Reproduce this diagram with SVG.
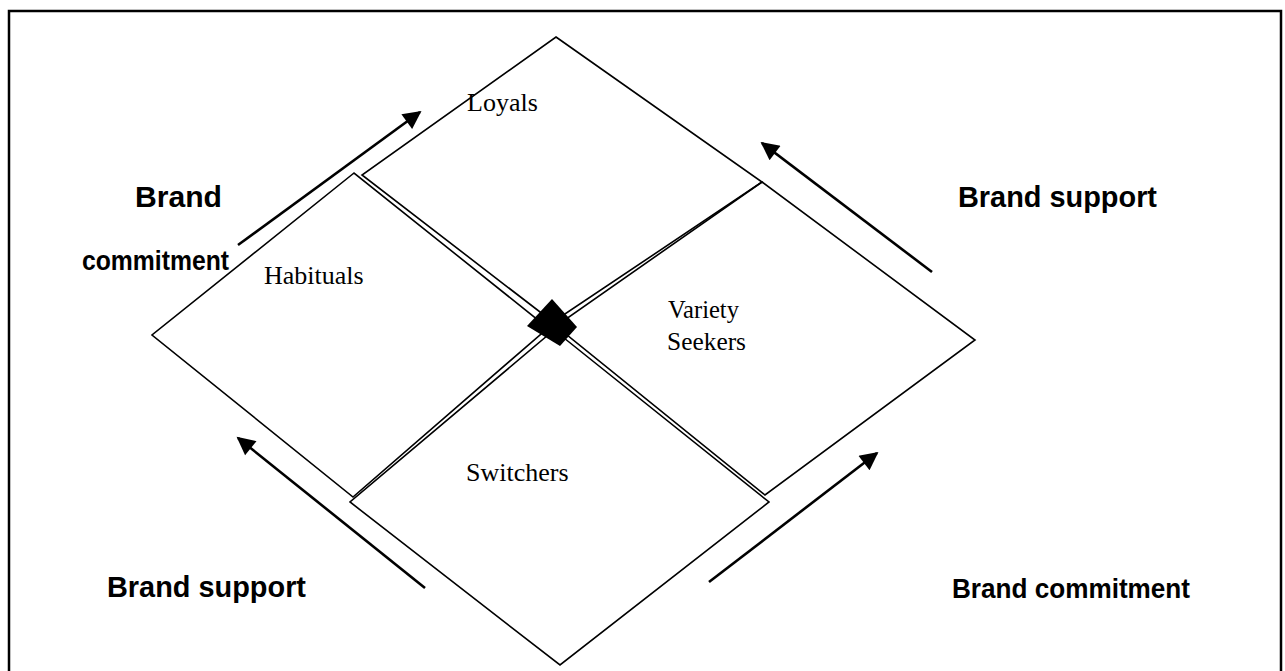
<svg xmlns="http://www.w3.org/2000/svg" width="1285" height="671" viewBox="0 0 1285 671">
  <defs>
    <marker id="head" viewBox="0 0 10 10" refX="9" refY="5" markerWidth="8" markerHeight="7" markerUnits="strokeWidth" orient="auto">
      <path d="M0,0 L10,5 L0,10 Z" fill="#000"/>
    </marker>
    <style>
      .seg { fill: none; stroke: #000; stroke-width: 1.6; stroke-linejoin: miter; }
      .arrow { fill: none; stroke: #000; stroke-width: 2.6; marker-end: url(#head); }
      .lbl { font-family: "Liberation Serif", "Times New Roman", serif; font-size: 26px; fill: #000; }
      .dir { font-family: "Liberation Sans", Arial, sans-serif; font-size: 29px; font-weight: bold; fill: #000; }
      .dir.sm { font-size: 27.5px; }
    </style>
  </defs>
  <rect width="1285" height="671" fill="#fff"/>
  <!-- page frame -->
  <rect x="9" y="11" width="1272" height="680" fill="none" stroke="#000" stroke-width="2.5"/>

  <g id="loyals">
    <polygon class="seg" points="556,37 762,182 553,322 362,175"/>
    <text class="lbl" x="467" y="111">Loyals</text>
  </g>
  <g id="habituals">
    <polygon class="seg" points="354,173 152,335 353,497 548,328"/>
    <text class="lbl" x="264" y="284">Habituals</text>
  </g>
  <g id="switchers">
    <polygon class="seg" points="554,330 769,502 560,665 350,502"/>
    <text class="lbl" x="466" y="481">Switchers</text>
  </g>
  <g id="variety-seekers">
    <polygon class="seg" points="762,182 975,340 765,495 556,326"/>
    <text class="lbl" x="668" y="318" textLength="71" lengthAdjust="spacingAndGlyphs">Variety</text>
    <text class="lbl" x="667" y="350" textLength="79" lengthAdjust="spacingAndGlyphs">Seekers</text>
  </g>
  <g id="hub">
    <polygon points="552,299 577,327 560,346 527,326" fill="#000"/>
  </g>

  <g id="connectors">
    <line class="arrow" x1="238" y1="245" x2="420" y2="112"/>
    <line class="arrow" x1="932" y1="272" x2="762" y2="143"/>
    <line class="arrow" x1="709" y1="582" x2="877" y2="453"/>
    <line class="arrow" x1="425" y1="588" x2="238" y2="438"/>
  </g>

  <g id="labels">
    <text class="dir" x="135" y="207" textLength="87" lengthAdjust="spacingAndGlyphs">Brand</text>
    <text class="dir sm" x="82" y="270" textLength="147" lengthAdjust="spacingAndGlyphs">commitment</text>
    <text class="dir" x="958" y="207" textLength="199" lengthAdjust="spacingAndGlyphs">Brand support</text>
    <text class="dir" x="107" y="597" textLength="199" lengthAdjust="spacingAndGlyphs">Brand support</text>
    <text class="dir sm" x="952" y="598" textLength="238" lengthAdjust="spacingAndGlyphs">Brand commitment</text>
  </g>
</svg>
